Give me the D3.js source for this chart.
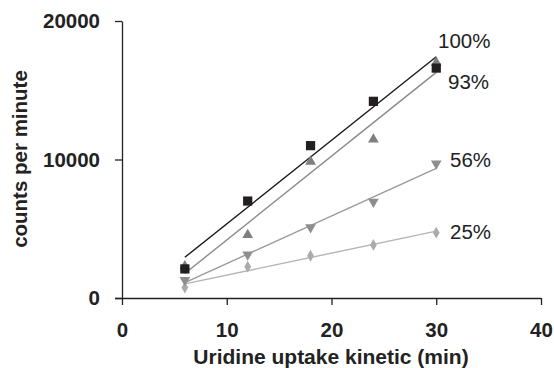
<!DOCTYPE html>
<html>
<head>
<meta charset="utf-8">
<script src="https://cdn.jsdelivr.net/npm/d3@7"></script>
<style>
  body { margin: 0; background: #fff; }
  svg { display: block; font-family: Arial, "Liberation Sans", sans-serif; }
</style>
</head>
<body>
<div id="chart"></div>
<script>
// data
const times = [6, 12, 18, 24, 30];
const labels = ["100%", "93%", "56%", "25%"];
const cpm100 = [2100, 7000, 11000, 14200, 16600];
const cpm93 = [2300, 4550, 9850, 11450, 17000];
const cpm56 = [1300, 3130, 5100, 6950, 9700];
const cpm25 = [750, 2260, 3050, 3830, 4720];
const xTicks = [0, 10, 20, 30, 40];
const yTicks = [0, 10000, 20000];

const W = 554, H = 368;
const x = d3.scaleLinear().domain([0, 40]).range([122, 541]);
const y = d3.scaleLinear().domain([0, 20000]).range([298, 21]);

const svg = d3.select("#chart").append("svg").attr("width", W).attr("height", H);

// linear fit, same as the trendlines in the original
function fit(xs, ys) {
  const mx = d3.mean(xs), my = d3.mean(ys);
  let sxy = 0, sxx = 0;
  xs.forEach((v, i) => { sxy += (v - mx) * (ys[i] - my); sxx += (v - mx) * (v - mx); });
  const b = sxy / sxx;
  return (t) => my + b * (t - mx);
}

const series = [
  { vals: cpm100, label: labels[0], fill: "#231f20", line: "#1a1a1a", sym: d3.symbolSquare, size: 85, rot: 0 },
  { vals: cpm93, label: labels[1], fill: "#7f7f7f", line: "#8a8a8a", sym: d3.symbolTriangle, size: 50, rot: 0 },
  { vals: cpm56, label: labels[2], fill: "#8e8e8e", line: "#9a9a9a", sym: d3.symbolTriangle, size: 50, rot: 180 },
  { vals: cpm25, label: labels[3], fill: "#ababab", line: "#b4b4b4", sym: d3.symbolDiamond, size: 40, rot: 0 }
];

// axes
const xAxis = svg.append("g").attr("transform", "translate(0," + y(0) + ")")
  .call(d3.axisBottom(x).tickValues(xTicks).tickFormat(d3.format("d")).tickSize(7).tickSizeOuter(0));
const yAxis = svg.append("g").attr("transform", "translate(" + x(0) + ",0)")
  .call(d3.axisLeft(y).tickValues(yTicks).tickFormat(d3.format("d")).tickSize(7).tickSizeOuter(0));
[xAxis, yAxis].forEach(g => {
  g.select(".domain").attr("stroke", "#222").attr("stroke-width", 1.3);
  g.selectAll(".tick line").attr("stroke", "#222").attr("stroke-width", 1.3);
  g.selectAll(".tick text").attr("fill", "#222").style("font-size", "20.5px").style("font-weight", "bold");
});
xAxis.select(".domain").attr("d", "M" + (x(0) - 7) + ",0.5H" + x(40));
xAxis.selectAll(".tick text").attr("dy", "0").attr("y", 39);
yAxis.selectAll(".tick text").attr("x", -22);

// axis titles
svg.append("text").attr("x", 331).attr("y", 364).attr("text-anchor", "middle")
  .attr("fill", "#222").style("font-size", "21px").style("font-weight", "bold")
  .text("Uridine uptake kinetic (min)");
svg.append("text").attr("transform", "translate(27,159) rotate(-90)").attr("text-anchor", "middle")
  .attr("fill", "#222").style("font-size", "20.5px").style("font-weight", "bold")
  .text("counts per minute");

// fit lines, then markers
series.forEach(s => {
  const f = fit(times, s.vals);
  const t0 = times[0], t1 = times[times.length - 1];
  svg.append("line")
    .attr("x1", x(t0)).attr("y1", y(f(t0)))
    .attr("x2", x(t1)).attr("y2", y(f(t1)))
    .attr("stroke", s.line).attr("stroke-width", 1.4);
});
series.slice().reverse().forEach(s => {
  svg.selectAll(null).data(times).enter().append("path")
    .attr("d", d3.symbol().type(s.sym).size(s.size))
    .attr("transform", (t, i) => "translate(" + x(t) + "," + y(s.vals[i]) + ") rotate(" + s.rot + ")")
    .attr("fill", s.fill);
});

// percentage labels at the right
const labelPos = [[438, 48], [448, 89], [450, 167], [450, 239]];
series.forEach((s, i) => {
  svg.append("text").attr("x", labelPos[i][0]).attr("y", labelPos[i][1])
    .attr("fill", "#222").style("font-size", "20.5px").text(s.label);
});
</script>
</body>
</html>
